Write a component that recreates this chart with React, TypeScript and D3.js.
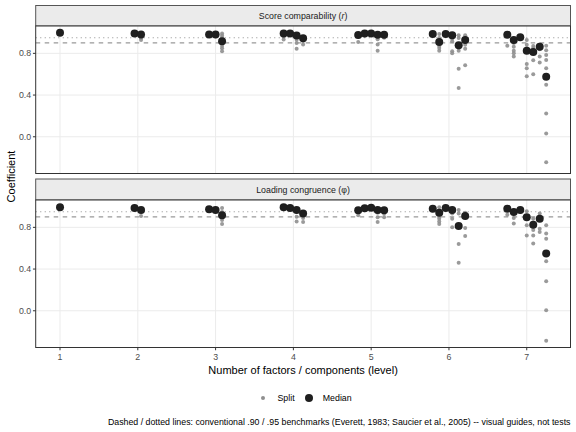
import React from "react";
import * as d3 from "d3";

const levels = [1, 2, 3, 4, 5, 6, 7];
const xTicks = [1, 2, 3, 4, 5, 6, 7];
const yTicks = [0.0, 0.4, 0.8];
const benchmarks = [0.9, 0.95];

// Score comparability (r)
const scoreMedian = [
  [0.998],
  [0.99, 0.98],
  [0.98, 0.98, 0.915],
  [0.99, 0.99, 0.97, 0.944],
  [0.975, 0.99, 0.99, 0.978, 0.979],
  [0.985, 0.908, 0.985, 0.973, 0.877, 0.928],
  [0.979, 0.928, 0.954, 0.825, 0.812, 0.864, 0.575],
];
const scoreSplit = [
  [[0.995, 0.99, 0.985]],
  [[0.99, 0.985], [0.975, 0.96, 0.945, 0.928]],
  [[0.98, 0.97], [0.98, 0.965], [0.99, 0.97, 0.95, 0.93, 0.9, 0.87, 0.85, 0.82]],
  [[0.985, 0.96, 0.934], [0.99, 0.975], [0.96, 0.93, 0.9, 0.844], [0.935, 0.918, 0.886]],
  [[0.96, 0.91], [0.985, 0.97], [0.985, 0.975], [0.96, 0.935, 0.886, 0.825], [0.97, 0.95]],
  [[0.985, 0.975], [0.985, 0.947, 0.87, 0.851, 0.825], [0.98, 0.97], [0.94, 0.915, 0.819, 0.8], [0.973, 0.947, 0.851, 0.825, 0.652, 0.467], [0.973, 0.883, 0.844, 0.685]],
  [[0.97, 0.873], [0.9, 0.863, 0.825, 0.8, 0.77], [0.95, 0.94], [0.928, 0.883, 0.85, 0.697, 0.656, 0.58], [0.87, 0.851, 0.8, 0.735, 0.6], [0.883, 0.84, 0.77, 0.712], [0.873, 0.83, 0.784, 0.736, 0.656, 0.5, 0.224, 0.032, -0.245]],
];

// Loading congruence (phi)
const loadMedian = [
  [0.992],
  [0.985, 0.966],
  [0.973, 0.966, 0.915],
  [0.992, 0.985, 0.966, 0.934],
  [0.963, 0.983, 0.987, 0.966, 0.963],
  [0.979, 0.94, 0.985, 0.966, 0.812, 0.908],
  [0.979, 0.947, 0.966, 0.896, 0.825, 0.883, 0.55],
];
const loadSplit = [
  [[0.99, 0.985]],
  [[0.98, 0.975], [0.955, 0.908]],
  [[0.97, 0.96], [0.96, 0.955], [0.985, 0.947, 0.9, 0.87, 0.832]],
  [[0.985, 0.98], [0.98, 0.97], [0.95, 0.902, 0.857], [0.92, 0.889, 0.851]],
  [[0.95, 0.915], [0.98, 0.97], [0.985, 0.98], [0.94, 0.896, 0.851], [0.93, 0.896]],
  [[0.975, 0.97], [0.992, 0.9, 0.883, 0.857, 0.832], [0.98, 0.975], [0.934, 0.883, 0.8], [0.966, 0.934, 0.64, 0.46], [0.94, 0.793, 0.716]],
  [[0.97, 0.921], [0.889, 0.838], [0.96, 0.95], [0.954, 0.819, 0.723], [0.883, 0.774, 0.723, 0.646], [0.934, 0.787, 0.755], [0.819, 0.742, 0.69, 0.474, 0.282, 0.006, -0.288]],
];

const FONT = "'Liberation Sans', Arial, Helvetica, sans-serif";
const W = 576;
const H = 432;
const PL = 35.7;
const PR = 570.5;
const panels = [
  { stripTop: 5.5, top: 26, bottom: 173.5, median: scoreMedian, split: scoreSplit, key: "score" },
  { stripTop: 179, top: 200, bottom: 347.5, median: loadMedian, split: loadSplit, key: "load" },
];

const STEP = 1 / 12;
const xPos = (level: number, j: number) => level + (j - (level - 1) / 2) * STEP;

export default function App() {
  const allX: number[] = [];
  const allY: number[] = [];
  [scoreMedian, loadMedian].forEach((m) =>
    m.forEach((arr, li) => arr.forEach((v, j) => { allX.push(xPos(levels[li], j)); allY.push(v); }))
  );
  [scoreSplit, loadSplit].forEach((s) =>
    s.forEach((arr, li) => arr.forEach((vals, j) => vals.forEach((v) => { allX.push(xPos(levels[li], j)); allY.push(v); })))
  );
  const [x0, x1] = d3.extent(allX) as [number, number];
  const [y0, y1] = d3.extent(allY) as [number, number];
  const xe = (x1 - x0) * 0.05;
  const ye = (y1 - y0) * 0.05;
  const x = d3.scaleLinear().domain([x0 - xe, x1 + xe]).range([PL, PR]);

  return (
    <svg width={W} height={H} style={{ position: "absolute", left: 0, top: 0, background: "#fff" }} fontFamily={FONT}>
      <rect x={0} y={0} width={W} height={H} fill="#fff" />
      {panels.map((p) => {
        const y = d3.scaleLinear().domain([y0 - ye, y1 + ye]).range([p.bottom, p.top]);
        const splits: { cx: number; cy: number }[] = [];
        p.split.forEach((arr, li) =>
          arr.forEach((vals, j) => vals.forEach((v) => splits.push({ cx: x(xPos(levels[li], j)), cy: y(v) })))
        );
        const meds: { cx: number; cy: number }[] = [];
        p.median.forEach((arr, li) => arr.forEach((v, j) => meds.push({ cx: x(xPos(levels[li], j)), cy: y(v) })));
        return (
          <g key={p.key}>
            {/* strip */}
            <rect x={PL} y={p.stripTop} width={PR - PL} height={p.top - p.stripTop} fill="#ebebeb" stroke="#555" strokeWidth={1} />
            <text x={(PL + PR) / 2} y={(p.stripTop + p.top) / 2} dy="0.35em" textAnchor="middle" fontSize={8.8} fill="#1a1a1a">
              {p.key === "score" ? (
                <>Score comparability (<tspan fontStyle="italic">r</tspan>)</>
              ) : (
                <>Loading congruence (<tspan>φ</tspan>)</>
              )}
            </text>
            {/* panel bg + grid */}
            <rect x={PL} y={p.top} width={PR - PL} height={p.bottom - p.top} fill="#fff" />
            {yTicks.map((t) => (
              <line key={"gy" + t} x1={PL} x2={PR} y1={y(t)} y2={y(t)} stroke="#ebebeb" strokeWidth={1} />
            ))}
            {xTicks.map((t) => (
              <line key={"gx" + t} x1={x(t)} x2={x(t)} y1={p.top} y2={p.bottom} stroke="#ebebeb" strokeWidth={1} />
            ))}
            {/* benchmarks */}
            <line x1={PL} x2={PR} y1={y(benchmarks[0])} y2={y(benchmarks[0])} stroke="#999" strokeWidth={1.1} strokeDasharray="4.5,4.5" />
            <line x1={PL} x2={PR} y1={y(benchmarks[1])} y2={y(benchmarks[1])} stroke="#999" strokeWidth={1.1} strokeDasharray="1.1,3.4" />
            {/* points */}
            {splits.map((d, i) => (
              <circle key={"s" + i} cx={d.cx} cy={d.cy} r={2} fill="#8f8f8f" fillOpacity={0.9} />
            ))}
            {meds.map((d, i) => (
              <circle key={"m" + i} cx={d.cx} cy={d.cy} r={4} fill="#1f1f1f" />
            ))}
            <rect x={PL} y={p.top} width={PR - PL} height={p.bottom - p.top} fill="none" stroke="#333" strokeWidth={1} />
            {/* y axis */}
            {yTicks.map((t) => (
              <g key={"yt" + t}>
                <line x1={PL - 2.75} x2={PL} y1={y(t)} y2={y(t)} stroke="#333" strokeWidth={1} />
                <text x={PL - 4.5} y={y(t)} dy="0.35em" textAnchor="end" fontSize={8.8} fill="#4d4d4d">
                  {d3.format(".1f")(t)}
                </text>
              </g>
            ))}
          </g>
        );
      })}
      {/* x axis */}
      {xTicks.map((t) => (
        <g key={"xt" + t}>
          <line x1={x(t)} x2={x(t)} y1={347.5} y2={350.25} stroke="#333" strokeWidth={1} />
          <text x={x(t)} y={356.5} dy="0.35em" textAnchor="middle" fontSize={8.8} fill="#4d4d4d">
            {t}
          </text>
        </g>
      ))}
      <text x={(PL + PR) / 2} y={370.5} dy="0.35em" textAnchor="middle" fontSize={11} fill="#000">
        Number of factors / components (level)
      </text>
      <text transform={`translate(11,176.5) rotate(-90)`} dy="0.35em" textAnchor="middle" fontSize={11} fill="#000">
        Coefficient
      </text>
      {/* legend */}
      <circle cx={263} cy={398} r={2} fill="#8f8f8f" />
      <text x={277.5} y={398} dy="0.35em" fontSize={8.8} fill="#000">Split</text>
      <circle cx={309} cy={398} r={4} fill="#1f1f1f" />
      <text x={322.8} y={398} dy="0.35em" fontSize={8.8} fill="#000">Median</text>
      {/* caption */}
      <text x={570.5} y={421.5} dy="0.35em" textAnchor="end" fontSize={8.8} fill="#000">
        Dashed / dotted lines: conventional .90 / .95 benchmarks (Everett, 1983; Saucier et al., 2005) -- visual guides, not tests
      </text>
    </svg>
  );
}
